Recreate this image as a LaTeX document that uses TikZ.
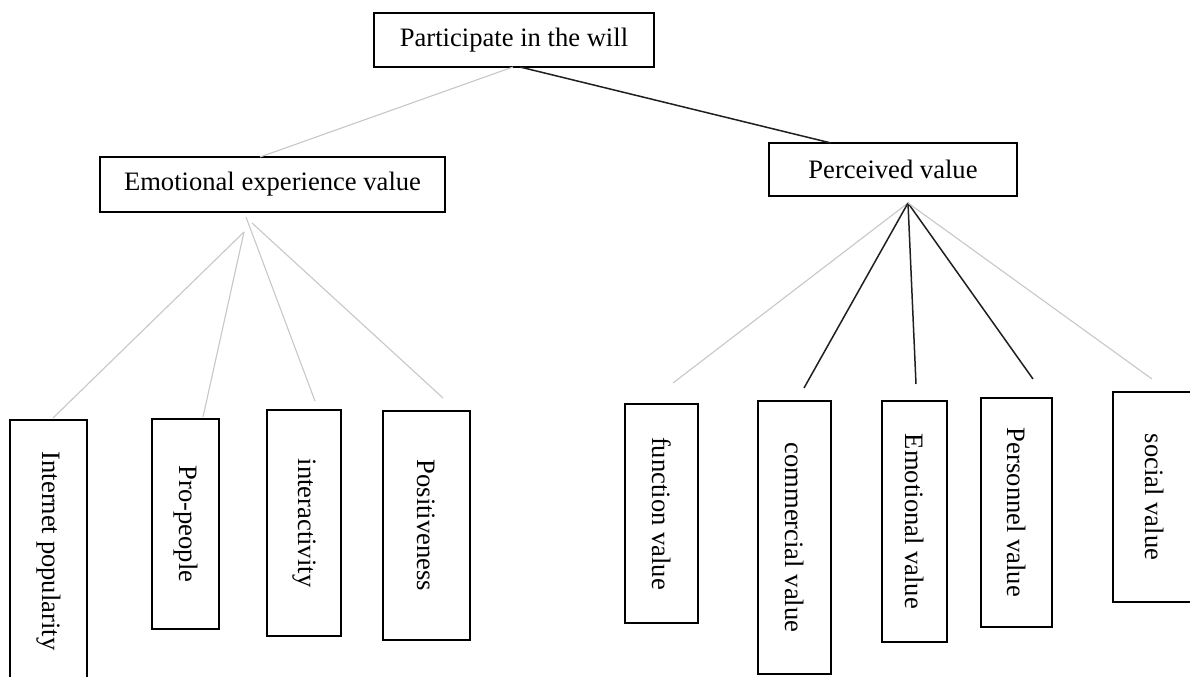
\documentclass[tikz,border=0pt]{standalone}
\usepackage{fontspec}
\setmainfont{Liberation Serif}
\begin{document}
\begin{tikzpicture}[x=1bp,y=-1bp,
  hbox/.style={draw=black,line width=2.6bp,rectangle,inner sep=0pt,
    font=\fontsize{26.6bp}{30bp}\selectfont},
  vbox/.style={hbox,rotate=-90},
  lightlink/.style={draw=black!22,line width=1.1bp},
  darklink/.style={draw=black!88,line width=1.5bp}]
\useasboundingbox (0,0) rectangle (1190,677);

% top level
\node[hbox,minimum width=280bp,minimum height=54bp] (will) at (514,40) {Participate in the will};

% second level
\node[hbox,minimum width=345bp,minimum height=55bp] (emo) at (272.5,184.5) {Emotional experience value};
\node[hbox,minimum width=248bp,minimum height=53bp] (perc) at (893,169.5) {Perceived value};

% emotional experience factors (width along the text)
\node[vbox,minimum width=262bp,minimum height=77bp] (ip) at (48.5,551) {Internet popularity};
\node[vbox,minimum width=210bp,minimum height=67bp] (pp) at (185.5,524) {Pro-people};
\node[vbox,minimum width=226bp,minimum height=74bp] (ia) at (304,523) {interactivity};
\node[vbox,minimum width=229bp,minimum height=87bp] (po) at (426.5,525.5) {Positiveness};

% perceived value factors
\node[vbox,minimum width=219bp,minimum height=73bp] (fv) at (661.5,513.5) {function value};
\node[vbox,minimum width=273bp,minimum height=73bp] (cv) at (794.5,537.5) {commercial value};
\node[vbox,minimum width=241bp,minimum height=65bp] (ev) at (914.5,521.5) {Emotional value};
\node[vbox,minimum width=229bp,minimum height=71bp] (pv) at (1016.5,512.5) {Personnel value};
\node[vbox,minimum width=210bp,minimum height=84bp] (sv) at (1155,497) {social value};

% connector end points
\coordinate (willL) at (513,67);
\coordinate (willR) at (520,67);
\coordinate (emoTop) at (260,157);
\coordinate (percTop) at (831,143);

\coordinate (emoA) at (244,232);
\coordinate (emoB) at (246,217);
\coordinate (emoC) at (252,223);
\coordinate (ipTop) at (53,418);
\coordinate (ppTop) at (203,417);
\coordinate (iaTop) at (315,401);
\coordinate (poTop) at (443,398);

\coordinate (percA) at (908,203);
\coordinate (fvTop) at (673,383);
\coordinate (cvTop) at (804,388);
\coordinate (evTop) at (916,384);
\coordinate (pvTop) at (1033,379);
\coordinate (svTop) at (1152,379);

% links
\draw[lightlink] (willL) -- (emoTop);
\draw[darklink] (willR) -- (percTop);

\draw[lightlink] (emoA) -- (ipTop);
\draw[lightlink] (emoA) -- (ppTop);
\draw[lightlink] (emoB) -- (iaTop);
\draw[lightlink] (emoC) -- (poTop);

\draw[lightlink] (percA) -- (fvTop);
\draw[darklink] (percA) -- (cvTop);
\draw[darklink] (percA) -- (evTop);
\draw[darklink] (percA) -- (pvTop);
\draw[lightlink] (percA) -- (svTop);
\end{tikzpicture}
\end{document}
